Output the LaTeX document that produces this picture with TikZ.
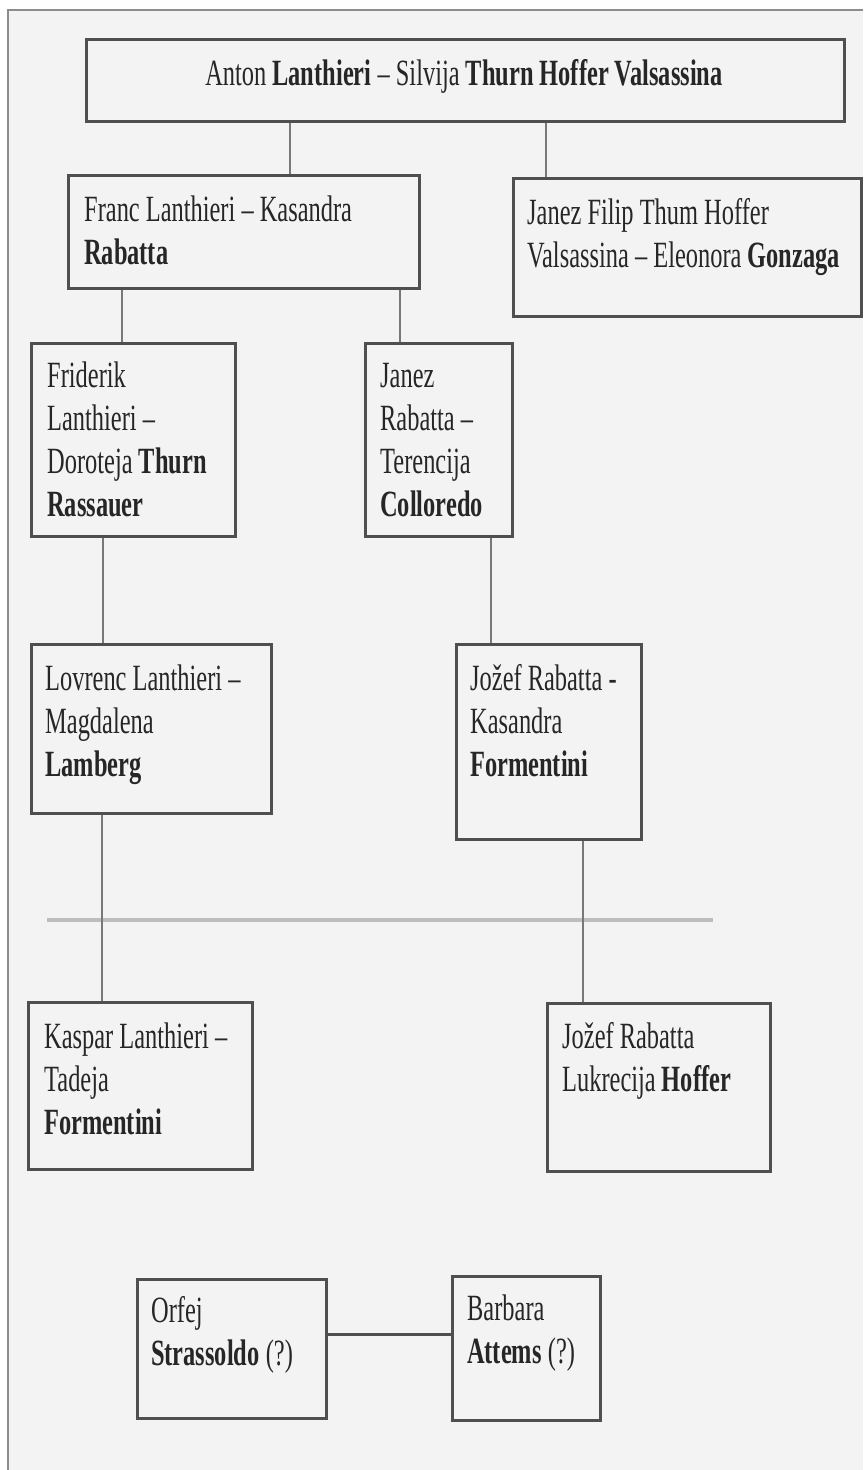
\documentclass[tikz,border=0pt]{standalone}
\usepackage{fontspec}
\setmainfont{Liberation Serif}[FakeStretch=0.66]
\definecolor{grisfond}{HTML}{F3F3F3}
\definecolor{griscadre}{HTML}{8C8C8C}
\definecolor{grisboite}{HTML}{4F4F4F}
\definecolor{grislien}{HTML}{787878}
\definecolor{grisligne}{HTML}{BDBDBD}
\definecolor{gristexte}{HTML}{262626}
\tikzset{
  boite/.style={draw=grisboite, line width=3pt, fill=grisfond, inner sep=0pt, anchor=north west},
  texte/.style={anchor=north west, align=left, inner sep=0pt, text=gristexte,
    font=\fontsize{37}{43}\selectfont},
  lien/.style={draw=grislien, line width=2pt},
}
\begin{document}
\begin{tikzpicture}[x=1pt, y=-1pt]
  \useasboundingbox (0,0) rectangle (863,1470);
  % Fond et cadre
  \fill[white] (0,0) rectangle (863,1470);
  \fill[grisfond] (8,10) rectangle (863,1470);
  \draw[griscadre, line width=1.5pt] (8,1470) -- (8,10) -- (863,10);

  % Premiere generation
  \node[boite, minimum width=758pt, minimum height=82pt] (anton) at (85,38) {};
  \node[texte, anchor=base] (anton-t) at (464,85)
    {Anton \textbf{Lanthieri} – Silvija \textbf{Thurn Hoffer Valsassina}};

  % Deuxieme generation
  \node[boite, minimum width=351pt, minimum height=113pt] (franc) at (67,174) {};
  \node[texte] (franc-t) at ([shift={(17,17)}]franc.north west)
    {\strut Franc Lanthieri – Kasandra\\ \textbf{Rabatta}};
  \node[boite, minimum width=348pt, minimum height=138pt] (janezf) at (512,177) {};
  \node[texte] (janezf-t) at ([shift={(15,17)}]janezf.north west)
    {\strut Janez Filip Thum Hoffer\\ Valsassina – Eleonora \textbf{Gonzaga}};

  % Troisieme generation
  \node[boite, minimum width=204pt, minimum height=193pt] (friderik) at (30,342) {};
  \node[texte] (friderik-t) at ([shift={(17,15)}]friderik.north west)
    {\strut Friderik\\ Lanthieri –\\ Doroteja \textbf{Thurn}\\ \textbf{Rassauer}};
  \node[boite, minimum width=147pt, minimum height=193pt] (janezr) at (364,342) {};
  \node[texte] (janezr-t) at ([shift={(16,15)}]janezr.north west)
    {\strut Janez\\ Rabatta –\\ Terencija\\ \textbf{Colloredo}};

  % Quatrieme generation
  \node[boite, minimum width=240pt, minimum height=169pt] (lovrenc) at (30,643) {};
  \node[texte] (lovrenc-t) at ([shift={(15,17)}]lovrenc.north west)
    {\strut Lovrenc Lanthieri –\\ Magdalena\\ \textbf{Lamberg}};
  \node[boite, minimum width=185pt, minimum height=195pt] (jozef) at (455,643) {};
  \node[texte] (jozef-t) at ([shift={(15,17)}]jozef.north west)
    {\strut Jožef Rabatta -\\ Kasandra\\ \textbf{Formentini}};

  % Ligne de separation
  \draw[grisligne, line width=3.5pt] (47,920) -- (713,920);

  % Cinquieme generation
  \node[boite, minimum width=224pt, minimum height=167pt] (kaspar) at (27,1001) {};
  \node[texte] (kaspar-t) at ([shift={(17,17)}]kaspar.north west)
    {\strut Kaspar Lanthieri –\\ Tadeja\\ \textbf{Formentini}};
  \node[boite, minimum width=223pt, minimum height=168pt] (jozefb) at (546,1002) {};
  \node[texte] (jozefb-t) at ([shift={(16,16)}]jozefb.north west)
    {\strut Jožef Rabatta\\ Lukrecija \textbf{Hoffer}};

  % Couple isole
  \node[boite, minimum width=189pt, minimum height=139pt] (orfej) at (136,1278) {};
  \node[texte] (orfej-t) at ([shift={(15,14)}]orfej.north west)
    {\strut Orfej\\ \textbf{Strassoldo} (?)};
  \node[boite, minimum width=148pt, minimum height=144pt] (barbara) at (451,1275) {};
  \node[texte] (barbara-t) at ([shift={(16,15)}]barbara.north west)
    {\strut Barbara\\ \textbf{Attems} (?)};

  % Liens
  \draw[lien] (anton.south -| 290,0) -- (franc.north -| 290,0);
  \draw[lien] (anton.south -| 546,0) -- (janezf.north -| 546,0);
  \draw[lien] (franc.south -| 122,0) -- (friderik.north -| 122,0);
  \draw[lien] (franc.south -| 400,0) -- (janezr.north -| 400,0);
  \draw[lien] (friderik.south -| 103,0) -- (lovrenc.north -| 103,0);
  \draw[lien] (janezr.south -| 491,0) -- (jozef.north -| 491,0);
  \draw[lien] (lovrenc.south -| 102,0) -- (kaspar.north -| 102,0);
  \draw[lien] (jozef.south -| 583,0) -- (jozefb.north -| 583,0);
  \draw[lien, draw=grisboite, line width=3pt] (orfej.east |- 0,1334) -- (barbara.west |- 0,1334);
\end{tikzpicture}
\end{document}
